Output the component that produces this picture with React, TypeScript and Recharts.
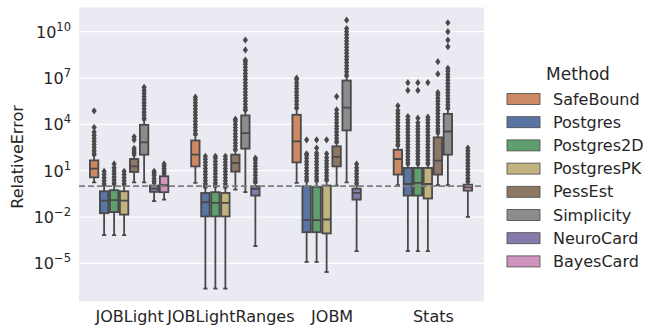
import React from 'react';
import { ComposedChart, Bar, XAxis, YAxis, CartesianGrid, ReferenceLine } from 'recharts';

// Values are log10(RelativeError)
const datasets = ['JOBLight', 'JOBLightRanges', 'JOBM', 'Stats'];
const methods = ['SafeBound', 'Postgres', 'Postgres2D', 'PostgresPK', 'PessEst', 'Simplicity', 'NeuroCard', 'BayesCard'];
const methodColors = ['#CC8963', '#5875A4', '#5F9E6E', '#C1B37F', '#8D7866', '#8C8C8C', '#857AAB', '#D095BF'];
const yTicks = [-5, -2, 1, 4, 7, 10];
const referenceLog = 0; // RelativeError = 1

// [whiskerLow, q1, median, q3, whiskerHigh] per dataset
const safeBoundBoxes = [
  [0.25, 0.57, 1.13, 1.67, 2.0],
  [0.21, 1.28, 2.04, 2.96, 3.3],
  [0.21, 1.54, 2.9, 4.62, 5.0],
  [0.06, 0.75, 1.76, 2.36, 2.6],
];
const postgresBoxes = [
  [-3.17, -1.75, -0.93, -0.33, 0.05],
  [-6.63, -1.96, -1.04, -0.44, -0.1],
  [-4.91, -2.98, -2.2, -0.01, 0.3],
  [-4.2, -0.61, 0.14, 1.18, 1.4],
];
const postgres2DBoxes = [
  [-3.17, -1.68, -0.91, -0.26, 0.1],
  [-6.63, -1.96, -1.08, -0.39, -0.05],
  [-4.91, -2.98, -2.2, -0.05, 0.3],
  [-4.2, -0.61, 0.21, 1.18, 1.4],
];
const postgresPKBoxes = [
  [-3.17, -1.84, -0.93, -0.33, 0.05],
  [-6.63, -1.96, -1.08, -0.44, -0.1],
  [-5.56, -3.06, -2.16, 0.04, 0.35],
  [-4.2, -0.8, 0.14, 1.18, 1.4],
];
const pessEstBoxes = [
  [0.25, 0.92, 1.28, 1.76, 2.0],
  [-0.22, 0.94, 1.5, 2.04, 2.3],
  [0.04, 1.28, 1.89, 2.58, 2.8],
  [0.06, 0.75, 1.65, 3.16, 3.4],
];
const simplicityBoxes = [
  [0.25, 2.04, 2.83, 3.97, 4.3],
  [-0.39, 2.43, 3.44, 4.58, 4.9],
  [0.25, 3.61, 5.09, 6.84, 7.1],
  [0.06, 2.04, 3.54, 4.68, 5.0],
];
const neuroCardBoxes = [
  [-0.97, -0.37, -0.16, 0.04, 0.2],
  [-3.88, -0.61, -0.18, -0.01, 0.2],
  [-4.2, -0.87, -0.44, -0.16, 0.1],
  null,
];
const bayesCardBoxes = [
  [-0.87, -0.39, 0.06, 0.64, 0.75],
  null,
  null,
  [-1.99, -0.29, -0.07, 0.1, 0.25],
];

const safeBoundOutliers = [
  [2.1, 2.3, 2.5, 2.7, 2.9, 3.1, 3.3, 3.5, 3.8, 4.88],
  [3.4, 3.6, 3.8, 4.0, 4.2, 4.4, 4.6, 4.8, 5.0, 5.2, 5.4, 5.6, 5.76],
  [5.1, 5.3, 5.5, 5.7, 5.9, 6.1, 6.3, 6.5, 6.7, 6.9, 7.0],
  [2.7, 2.9, 3.1, 3.3, 3.5, 3.7, 3.9, 4.1, 4.3, 4.5, 4.7, 4.9, 5.2],
];
const postgresOutliers = [
  [0.15, 0.35, 0.55, 0.75, 0.96],
  [0.0, 0.15, 0.35, 0.55, 0.75, 0.95, 1.15, 1.35, 1.55, 1.75, 1.93],
  [0.42, 0.6, 0.8, 1.0, 1.2, 1.4, 1.6, 1.8, 2.0, 2.1, 3.0],
  [1.5, 1.7, 1.9, 2.1, 2.3, 2.5, 2.7, 2.9, 3.1, 3.3, 3.5, 3.7, 3.9, 4.1, 4.3, 4.51, 6.2, 6.7],
];
const postgres2DOutliers = [
  [0.2, 0.4, 0.6, 0.8, 1.0, 1.2, 1.44],
  [0.05, 0.2, 0.4, 0.6, 0.8, 1.0, 1.2, 1.4, 1.6, 1.8, 1.93],
  [0.42, 0.6, 0.8, 1.0, 1.2, 1.4, 1.6, 1.8, 2.0, 2.15, 2.47, 3.0],
  [1.5, 1.7, 1.9, 2.1, 2.3, 2.5, 2.7, 2.9, 3.1, 3.3, 3.5, 3.7, 3.9, 4.1, 4.4, 6.2, 6.7],
];
const postgresPKOutliers = [
  [0.15, 0.35, 0.55, 0.75, 0.96],
  [0.0, 0.15, 0.35, 0.55, 0.75, 0.95, 1.15, 1.35, 1.55, 1.75, 1.93],
  [0.45, 0.65, 0.85, 1.05, 1.25, 1.45, 1.65, 1.85, 2.1, 3.0],
  [1.5, 1.7, 1.9, 2.1, 2.3, 2.5, 2.7, 2.9, 3.1, 3.3, 3.5, 3.7, 3.9, 4.1, 4.3, 4.47, 6.71],
];
const pessEstOutliers = [
  [2.15, 2.3, 2.45, 3.0, 3.2],
  [2.4, 2.6, 2.8, 3.0, 3.2, 3.4, 3.6, 3.8, 4.0, 4.2, 4.34],
  [2.9, 3.1, 3.3, 3.5, 3.7, 3.9, 4.1, 4.3, 4.5, 4.7, 4.94, 5.8],
  [3.54, 3.7, 3.9, 4.1, 4.3, 4.5, 4.7, 4.9, 5.1, 5.3, 5.5, 5.7, 5.9, 6.06, 7.27, 8.06],
];
const simplicityOutliers = [
  [4.4, 4.6, 4.8, 5.0, 5.2, 5.4, 5.6, 5.8, 6.0, 6.2, 6.4],
  [4.94, 5.1, 5.3, 5.5, 5.7, 5.9, 6.1, 6.3, 6.5, 6.7, 6.9, 7.1, 7.3, 7.5, 7.7, 7.9, 8.05, 8.17, 8.82, 9.46],
  [7.2, 7.4, 7.6, 7.8, 8.0, 8.2, 8.4, 8.6, 8.8, 9.0, 9.2, 9.4, 9.6, 9.8, 10.0, 10.2, 10.75],
  [5.05, 5.25, 5.45, 5.65, 5.85, 6.05, 6.25, 6.45, 6.65, 6.85, 7.05, 7.25, 7.45, 7.63, 9.03, 9.46, 10.0, 10.58],
];
const neuroCardOutliers = [
  [0.32, 0.5, 0.7, 0.85, 0.96],
  [0.32, 0.5, 0.7, 0.9, 1.1, 1.3, 1.5, 1.7, 1.82],
  [0.21, 0.4, 0.6, 0.8, 1.0, 1.2, 1.44],
  [],
];
const bayesCardOutliers = [
  [0.85, 1.0, 1.15, 1.3, 1.44],
  [],
  [],
  [0.32, 0.5, 0.7, 0.9, 1.1, 1.3, 1.5, 1.7, 1.9, 2.1, 2.3, 2.47],
];

const allBoxes = [safeBoundBoxes, postgresBoxes, postgres2DBoxes, postgresPKBoxes, pessEstBoxes, simplicityBoxes, neuroCardBoxes, bayesCardBoxes];
const allOutliers = [safeBoundOutliers, postgresOutliers, postgres2DOutliers, postgresPKOutliers, pessEstOutliers, simplicityOutliers, neuroCardOutliers, bayesCardOutliers];

const rows = datasets.map((d, i) => {
  const row: any = { dataset: d };
  methods.forEach((m, j) => {
    const b = allBoxes[j][i];
    if (b) {
      const o = allOutliers[j][i];
      row[m] = [Math.min(b[0], ...o), Math.max(b[4], ...o)];
    } else {
      row[m] = null;
    }
  });
  return row;
});

const LINE = '#494949';
const FONT = 'DejaVu Sans';

const makeShape = (j: number) => (props: any) => {
  const { x, y, width, height, payload } = props;
  const i = datasets.indexOf(payload.dataset);
  const b = allBoxes[j][i];
  if (!b) return null;
  const o = allOutliers[j][i];
  const rlo = Math.min(b[0], ...o);
  const rhi = Math.max(b[4], ...o);
  const top = Math.min(y, y + height);
  const bot = Math.max(y, y + height);
  const py = (v: number) => top + ((rhi - v) / (rhi - rlo)) * (bot - top);
  const cx = x + width / 2;
  const bw = width - 1.6;
  const cw = bw / 2;
  return (
    <g>
      <line x1={cx} x2={cx} y1={py(b[0])} y2={py(b[1])} stroke={LINE} strokeWidth={1.8} />
      <line x1={cx} x2={cx} y1={py(b[3])} y2={py(b[4])} stroke={LINE} strokeWidth={1.8} />
      <line x1={cx - cw / 2} x2={cx + cw / 2} y1={py(b[0])} y2={py(b[0])} stroke={LINE} strokeWidth={1.8} />
      <line x1={cx - cw / 2} x2={cx + cw / 2} y1={py(b[4])} y2={py(b[4])} stroke={LINE} strokeWidth={1.8} />
      <rect x={cx - bw / 2} y={py(b[3])} width={bw} height={Math.max(0.5, py(b[1]) - py(b[3]))} fill={methodColors[j]} stroke={LINE} strokeWidth={1.8} />
      <line x1={cx - bw / 2} x2={cx + bw / 2} y1={py(b[2])} y2={py(b[2])} stroke={LINE} strokeWidth={1.8} />
      {o.map((v, k) => {
        const yy = py(v);
        return (
          <polygon key={k} points={`${cx},${yy - 3.6} ${cx + 2.6},${yy} ${cx},${yy + 3.6} ${cx - 2.6},${yy}`} fill={LINE} />
        );
      })}
    </g>
  );
};

const YTick = (props: any) => {
  const { x, y, payload } = props;
  const n = payload.value;
  const s = n < 0 ? '\u2212' + Math.abs(n) : String(n);
  return (
    <text x={x} y={y} textAnchor="end" fontFamily={FONT} fontSize={16} fill="#262626" dy={6}>
      10<tspan dy={-7} fontSize={11.5}>{s}</tspan>
    </text>
  );
};

const XTick = (props: any) => {
  const { x, y, payload } = props;
  return (
    <text x={x} y={y} textAnchor="middle" fontFamily={FONT} fontSize={16} fill="#262626" dy={12}>
      {payload.value}
    </text>
  );
};

export default function App() {
  return (
    <div style={{ position: 'relative', width: 661, height: 335 }}>
      <style>{'body{margin:0}'}</style>
      <ComposedChart
        width={661}
        height={335}
        data={rows}
        margin={{ top: 7, right: 177, bottom: 0, left: 0 }}
        barCategoryGap="10%"
        barGap={0}
      >
        <CartesianGrid vertical={false} stroke="#ffffff" strokeWidth={1.2} fill="#EAEAF2" />
        <XAxis dataKey="dataset" height={33} tickLine={false} axisLine={false} tick={<XTick />} interval={0} />
        <YAxis
          type="number"
          width={79}
          domain={[-7.5, 11.6]}
          ticks={yTicks}
          allowDataOverflow
          tickLine={false}
          axisLine={false}
          tick={<YTick />}
          label={{
            content: () => (
              <text x={23} y={157} transform="rotate(-90 23 157)" textAnchor="middle" fontFamily={FONT} fontSize={16} fill="#262626">
                RelativeError
              </text>
            ),
          }}
        />
        <ReferenceLine y={referenceLog} stroke="#808080" strokeWidth={1.6} strokeDasharray="6 3" />
        {methods.map((m, j) => (
          <Bar key={m} dataKey={m} fill={methodColors[j]} isAnimationActive={false} shape={makeShape(j)} />
        ))}
      </ComposedChart>
      <svg width={661} height={335} style={{ position: 'absolute', left: 0, top: 0, pointerEvents: 'none' }}>
        <text x={578} y={80} textAnchor="middle" fontFamily={FONT} fontSize={17} fill="#262626">Method</text>
        {methods.map((m, j) => (
          <g key={m}>
            <rect x={507} y={93.5 + j * 23.2} width={33} height={11} fill={methodColors[j]} stroke={LINE} strokeWidth={0.8} />
            <text x={553} y={104.5 + j * 23.2} fontFamily={FONT} fontSize={16} fill="#262626">{m}</text>
          </g>
        ))}
      </svg>
    </div>
  );
}
